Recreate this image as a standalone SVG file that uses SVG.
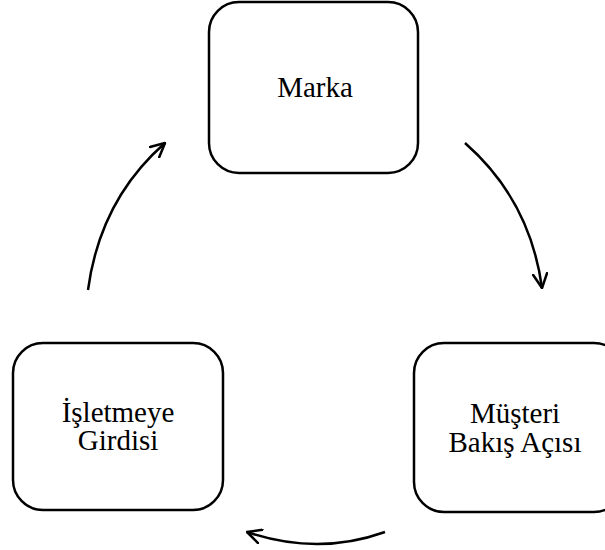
<svg xmlns="http://www.w3.org/2000/svg" width="605" height="550" viewBox="0 0 605 550">
<style>
.box{fill:#fff;stroke:#000;stroke-width:2.5}
.lbl{font-family:"Liberation Serif","Times New Roman",serif;font-size:29px;fill:#000;text-anchor:middle}
.conn{fill:none;stroke:#000;stroke-width:2.5;marker-end:url(#ah)}
</style>
<defs>
<marker id="ah" viewBox="0 0 16 16" refX="15" refY="8" markerWidth="16" markerHeight="16" markerUnits="userSpaceOnUse" orient="auto">
<path d="M1,1 L15,8 L1,15" fill="none" stroke="#000" stroke-width="2.5" stroke-linecap="round" stroke-linejoin="round"/>
</marker>
</defs>
<rect width="605" height="550" fill="#fff"/>
<g id="marka">
<rect class="box" x="209" y="2" width="209" height="171" rx="30"/>
<text class="lbl" x="315" y="97">Marka</text>
</g>
<g id="musteri">
<rect class="box" x="414" y="343" width="210" height="169" rx="30"/>
<text class="lbl" x="515" y="423">Müşteri</text>
<text class="lbl" x="515" y="452">Bakış Açısı</text>
</g>
<g id="isletmeye">
<rect class="box" x="13" y="343" width="210" height="167" rx="30"/>
<text class="lbl" x="118" y="422">İşletmeye</text>
<text class="lbl" x="118" y="450">Girdisi</text>
</g>
<g id="connectors">
<path class="conn" d="M88,290 Q100,200 165,143"/>
<path class="conn" d="M465,143 Q530,200 542,288"/>
<path class="conn" d="M385,532 Q318,556 247,532"/>
</g>
</svg>
